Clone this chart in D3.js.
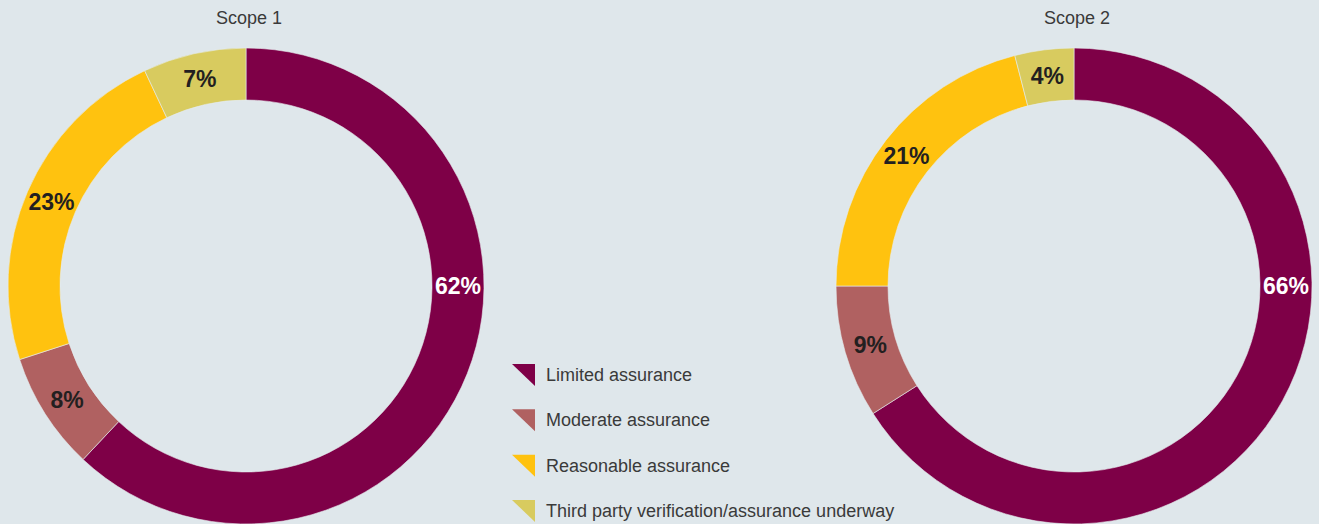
<!DOCTYPE html>
<html lang="en">
<head>
    <meta charset="UTF-8">
    <title>Assurance by scope</title>
    <script src="https://d3js.org/d3.v7.min.js"></script>
    <style>
        body { margin: 0; background: #dfe7eb; }
        svg { display: block; font-family: "Liberation Sans", Arial, sans-serif; }
    </style>
</head>
<body>
    <svg id="chart" width="1319" height="524"></svg>

    <script>
        // Categories and values (percent)
        const categories = ["Limited assurance", "Moderate assurance", "Reasonable assurance", "Third party verification/assurance underway"];
        const scope1Values = [62, 8, 23, 7];
        const scope2Values = [66, 9, 21, 4];
        const scopeTitles = ["Scope 1", "Scope 2"];

        const width = 1319;
        const height = 524;
        const outerRadius = 238;
        const innerRadius = 186;
        const labelRadius = (outerRadius + innerRadius) / 2;

        const color = d3.scaleOrdinal()
            .domain(categories)
            .range(["#7e0047", "#b06161", "#ffc20f", "#d8cb5f"]);

        const svg = d3.select("#chart");

        const arc = d3.arc()
            .innerRadius(innerRadius)
            .outerRadius(outerRadius);

        const pie = d3.pie()
            .sort(null)
            .value(d => d.value);

        // label angle: slices that cross the 3 o'clock point get labelled there
        function labelAngle(d) {
            if (d.startAngle <= Math.PI / 2 && d.endAngle >= Math.PI / 2) return Math.PI / 2;
            return (d.startAngle + d.endAngle) / 2;
        }

        function drawDonut(values, title, cx) {
            const data = categories.map((c, i) => ({ key: c, value: values[i] }));

            const g = svg.append("g")
                .attr("transform", "translate(" + cx + "," + 286 + ")");

            g.append("text")
                .attr("x", 3)
                .attr("y", -262)
                .attr("text-anchor", "middle")
                .attr("font-size", "18px")
                .attr("fill", "#3a3a3a")
                .text(title);

            const arcs = g.selectAll(".slice")
                .data(pie(data))
                .enter()
                .append("g")
                .attr("class", "slice");

            arcs.append("path")
                .attr("d", arc)
                .attr("fill", d => color(d.data.key))
                .attr("stroke", "#e6ecef")
                .attr("stroke-width", 0.6);

            arcs.append("text")
                .attr("transform", d => {
                    const a = labelAngle(d);
                    return "translate(" + (labelRadius * Math.sin(a)) + "," + (-labelRadius * Math.cos(a)) + ")";
                })
                .attr("text-anchor", "middle")
                .attr("dy", "0.36em")
                .attr("font-size", "23px")
                .attr("font-weight", "bold")
                .attr("fill", (d, i) => i === 0 ? "#ffffff" : "#231f20")
                .text(d => d.data.value + "%");
        }

        drawDonut(scope1Values, scopeTitles[0], 246);
        drawDonut(scope2Values, scopeTitles[1], 1074);

        // Legend
        const legendY = d3.scalePoint()
            .domain(categories)
            .range([364, 500]);

        const legend = svg.append("g")
            .attr("transform", "translate(512,0)");

        const rows = legend.selectAll(".legend-row")
            .data(categories)
            .enter()
            .append("g")
            .attr("class", "legend-row")
            .attr("transform", d => "translate(0," + legendY(d) + ")");

        rows.append("path")
            .attr("d", "M0,0 L23,0 L23,22 Z")
            .attr("fill", d => color(d));

        rows.append("text")
            .attr("x", 34)
            .attr("y", 17)
            .attr("font-size", "18px")
            .attr("fill", "#3a3a3a")
            .text(d => d);
    </script>
</body>
</html>
